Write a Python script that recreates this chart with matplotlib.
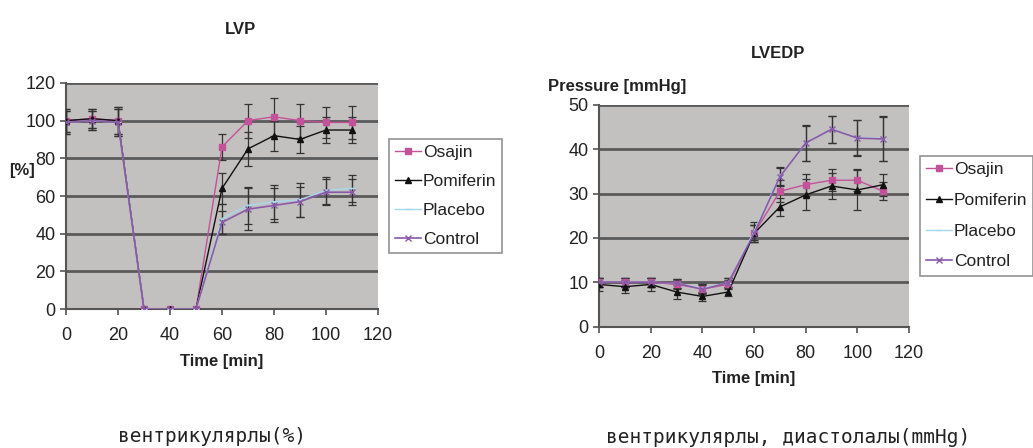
import matplotlib
matplotlib.use("Agg")
import matplotlib.pyplot as plt
from matplotlib.lines import Line2D
import numpy as np

plt.rcParams['font.family'] = ['Liberation Sans', 'DejaVu Sans']

time_min = [0, 10, 20, 30, 40, 50, 60, 70, 80, 90, 100, 110]
series_names = ["Osajin", "Pomiferin", "Placebo", "Control"]

# LVP (% of baseline)
lvp_osajin = [100, 101, 100, 0, 0, 0, 86, 100, 102, 100, 99, 99]
lvp_osajin_err = [6, 5, 7, 0, 0, 0, 7, 9, 10, 9, 8, 9]
lvp_pomiferin = [100, 101, 100, 0, 0, 0, 64, 85, 92, 90, 95, 95]
lvp_pomiferin_err = [6, 5, 7, 0, 0, 0, 8, 9, 8, 7, 7, 7]
lvp_placebo = [99, 100, 99, 0, 0, 0, 48, 55, 57, 58, 63, 64]
lvp_placebo_err = [6, 5, 7, 0, 0, 0, 8, 10, 9, 9, 7, 7]
lvp_control = [99, 100, 99, 0, 0, 0, 46, 53, 55, 57, 62, 62]
lvp_control_err = [6, 5, 7, 0, 0, 0, 6, 11, 9, 8, 7, 7]

# LVEDP (mmHg)
lvedp_osajin = [10, 10, 10, 9.5, 8.5, 9.5, 21, 30.5, 32, 33, 33, 30.5]
lvedp_osajin_err = [1, 1, 1, 1, 1, 1, 2, 2.5, 2.5, 2.5, 2.5, 2]
lvedp_pomiferin = [9.5, 9, 9.5, 7.8, 6.8, 7.8, 21, 27, 29.7, 31.7, 30.8, 32]
lvedp_pomiferin_err = [1.5, 1.5, 1.5, 1.5, 1, 1, 2, 2, 3.5, 3, 4.5, 2.5]
lvedp_placebo = [10, 10, 10, 9.8, 8.6, 9.9, 21.5, 34, 41.3, 44.5, 42.6, 42.4]
lvedp_placebo_err = [1, 1, 1, 1, 1, 1, 2, 2, 4, 3, 4, 5]
lvedp_control = [10, 10, 10, 9.8, 8.4, 9.9, 21, 33.8, 41.4, 44.5, 42.5, 42.3]
lvedp_control_err = [1, 1, 1, 1, 1, 1, 2, 2, 4, 3, 4, 5]

styles = {
    "Osajin": dict(color="#c4529a", marker="s", ms=4, lw=1.0),
    "Pomiferin": dict(color="#111111", marker="^", ms=5, lw=1.0),
    "Placebo": dict(color="#a8d8ec", marker="_", ms=4, lw=1.0),
    "Control": dict(color="#8a5aa8", marker="x", ms=4, lw=1.2),
}

fig = plt.figure(figsize=(10.33, 4.48), dpi=100)
ax1 = fig.add_axes([0.0639, 0.310, 0.302, 0.505])
ax2 = fig.add_axes([0.580, 0.271, 0.300, 0.495])

bg = "#c3c1bf"
grid_c = "#5a5a5a"
txt = "#222222"


def draw_panel(ax, data, ymax, ystep, legend_spacing):
    ax.set_facecolor(bg)
    handles = []
    for name, (vals, errs) in zip(series_names, data):
        st = styles[name]
        ax.errorbar(time_min, vals, yerr=errs, color=st["color"], marker=st["marker"],
                    ms=st["ms"], lw=st["lw"], ecolor="#333333", elinewidth=0.9,
                    capsize=3, capthick=0.9, zorder=3)
        handles.append(Line2D([], [], color=st["color"], marker=st["marker"],
                              ms=st["ms"], lw=st["lw"], label=name))
    ax.set_xlim(0, 120)
    ax.set_ylim(0, ymax)
    ax.set_xticks(np.arange(0, 121, 20))
    ax.set_yticks(np.arange(0, ymax + 1, ystep))
    for yv in np.arange(ystep, ymax + 1, ystep):
        ax.axhline(yv, color=grid_c, lw=2.0, zorder=1)
    for s in ["top", "right"]:
        ax.spines[s].set_visible(False)
    for s in ["left", "bottom"]:
        ax.spines[s].set_color("#555555")
        ax.spines[s].set_linewidth(1.5)
    ax.tick_params(axis="both", colors="#555555", labelcolor=txt,
                   labelsize=13, length=4, width=1.2)
    ax.tick_params(axis="x", pad=9)
    ax.set_xlabel("Time [min]", fontsize=12, fontweight="bold", color=txt, labelpad=7)
    leg = ax.legend(handles=handles, loc="center left", bbox_to_anchor=(1.035, 0.5),
                    frameon=True, fontsize=12.5, handlelength=1.5, handletextpad=0.1,
                    borderpad=0.35, labelspacing=legend_spacing, fancybox=False,
                    borderaxespad=0)
    leg.get_frame().set_edgecolor("#777777")
    leg.get_frame().set_linewidth(1.2)
    for t in leg.get_texts():
        t.set_color(txt)
    return leg


draw_panel(ax1, [(lvp_osajin, lvp_osajin_err), (lvp_pomiferin, lvp_pomiferin_err),
                 (lvp_placebo, lvp_placebo_err), (lvp_control, lvp_control_err)], 120, 20, 0.8)
draw_panel(ax2, [(lvedp_osajin, lvedp_osajin_err), (lvedp_pomiferin, lvedp_pomiferin_err),
                 (lvedp_placebo, lvedp_placebo_err), (lvedp_control, lvedp_control_err)], 50, 10, 0.9)

fig.text(241 / 1033, 1 - 30 / 448, "LVP", fontsize=12, fontweight="bold", ha="center", va="center", color=txt)
fig.text(778 / 1033, 1 - 53 / 448, "LVEDP", fontsize=12, fontweight="bold", ha="center", va="center", color=txt)
fig.text(617 / 1033, 1 - 86 / 448, "Pressure [mmHg]", fontsize=12, fontweight="bold", ha="center", va="center", color=txt)
fig.text(22 / 1033, 1 - 170 / 448, "[%]", fontsize=12, fontweight="bold", ha="center", va="center", color=txt)

fig.text(212 / 1033, 1 - 436 / 448, "вентрикулярлы(%)", fontsize=14,
         family="DejaVu Sans Mono", ha="center", va="center", color=txt)
fig.text(788 / 1033, 1 - 437 / 448, "вентрикулярлы, диастолалы(mmHg)", fontsize=14,
         family="DejaVu Sans Mono", ha="center", va="center", color=txt)

fig.savefig("out.png", dpi=100)
